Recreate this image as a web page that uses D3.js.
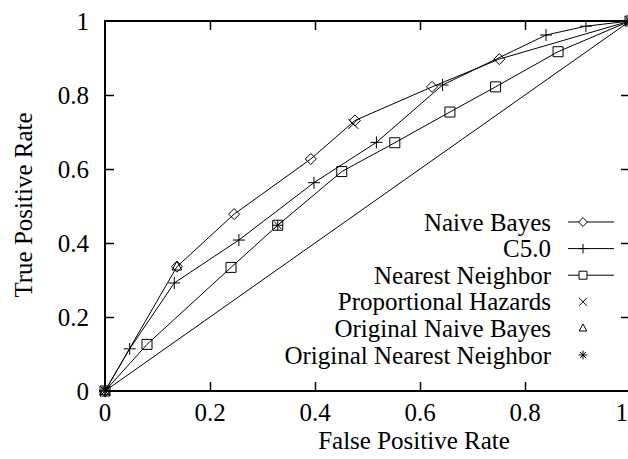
<!DOCTYPE html>
<html>
<head>
<meta charset="utf-8">
<script src="https://cdn.jsdelivr.net/npm/d3@7"></script>
<style>
  body { margin: 0; background: #fff; }
  svg { display: block; }
</style>
</head>
<body>
<svg id="roc" width="628" height="459" font-family="Liberation Serif" font-size="25px"></svg>
<script>
// ROC curves, values
var nbFpr  = [0, 0.137, 0.246, 0.392, 0.476, 0.623, 0.751, 1]
var nbTpr  = [0, 0.336, 0.478, 0.627, 0.731, 0.822, 0.897, 1]

var c5Fpr  = [0, 0.047, 0.132, 0.255, 0.398, 0.517, 0.643, 0.840, 0.916, 1]
var c5Tpr  = [0, 0.114, 0.292, 0.408, 0.563, 0.672, 0.827, 0.962, 0.986, 1]

var nnFpr  = [0, 0.080, 0.240, 0.329, 0.451, 0.552, 0.657, 0.744, 0.863, 1]
var nnTpr  = [0, 0.126, 0.334, 0.448, 0.593, 0.671, 0.754, 0.822, 0.917, 1]

var phFpr  = [0, 0.473, 1]
var phTpr  = [0, 0.722, 1]

var onbFpr = [0, 0.137, 1]
var onbTpr = [0, 0.336, 1]

var onnFpr = [0, 0.329, 1]
var onnTpr = [0, 0.448, 1]

var diagFpr = [0, 1]
var diagTpr = [0, 1]

var tickVals   = [0, 0.2, 0.4, 0.6, 0.8, 1]
var tickLabels = ["0", "0.2", "0.4", "0.6", "0.8", "1"]

var seriesNames = ["Naive Bayes", "C5.0", "Nearest Neighbor",
                   "Proportional Hazards", "Original Naive Bayes", "Original Nearest Neighbor"]

var zip = (xs, ys) => xs.map((v, i) => ({x: v, y: ys[i]}))

var series = [
  {name: seriesNames[0], pts: zip(nbFpr, nbTpr),   line: true,  sym: "diamond"},
  {name: seriesNames[1], pts: zip(c5Fpr, c5Tpr),   line: true,  sym: "plus"},
  {name: seriesNames[2], pts: zip(nnFpr, nnTpr),   line: true,  sym: "square"},
  {name: seriesNames[3], pts: zip(phFpr, phTpr),   line: false, sym: "times"},
  {name: seriesNames[4], pts: zip(onbFpr, onbTpr), line: false, sym: "triangle"},
  {name: seriesNames[5], pts: zip(onnFpr, onnTpr), line: false, sym: "asterisk"}
]

// marker outlines, gnuplot style
function symPath(type, r) {
  switch (type) {
    case "diamond":  return `M0,${-r}L${r},0L0,${r}L${-r},0Z`
    case "square":   return `M${-r},${-r}H${r}V${r}H${-r}Z`
    case "plus":     return `M${-r},0H${r}M0,${-r}V${r}`
    case "times":    return `M${-r},${-r}L${r},${r}M${-r},${r}L${r},${-r}`
    case "triangle": return `M0,${-r}L${r*0.87},${r*0.6}L${-r*0.87},${r*0.6}Z`
    case "asterisk": return `M${-r},0H${r}M0,${-r}V${r}M${-r*0.7},${-r*0.7}L${r*0.7},${r*0.7}M${-r*0.7},${r*0.7}L${r*0.7},${-r*0.7}`
  }
}
var symSize = {diamond: 5.5, square: 5, plus: 6, times: 5, triangle: 5.5, asterisk: 5.5}

var svg = d3.select("#roc")

var x = d3.scaleLinear().domain([0, 1]).range([105, 630])
var y = d3.scaleLinear().domain([0, 1]).range([391, 21])

var line = d3.line().x(d => x(d.x)).y(d => y(d.y))

// diagonal
svg.append("path")
    .datum(zip(diagFpr, diagTpr))
    .attr("fill", "none")
    .attr("stroke", "#000")
    .attr("stroke-width", 1)
    .attr("d", line)

series.filter(s => s.line).forEach(s => {
  svg.append("path")
      .datum(s.pts)
      .attr("fill", "none")
      .attr("stroke", "#000")
      .attr("stroke-width", 1)
      .attr("d", line)
})

series.forEach(s => {
  svg.append("g")
    .selectAll("path")
    .data(s.pts)
    .join("path")
      .attr("transform", d => `translate(${x(d.x)},${y(d.y)})`)
      .attr("d", symPath(s.sym, symSize[s.sym]))
      .attr("fill", "none")
      .attr("stroke", "#000")
      .attr("stroke-width", 1)
})

// axes: inward ticks on all four sides
var tickLen = 9
var inner = tickVals.slice(1, -1)

svg.append("g")
    .attr("transform", `translate(0,${y(0)})`)
    .call(d3.axisTop(x).tickValues(inner).tickSize(tickLen).tickFormat(""))
    .call(g => g.select(".domain").remove())
svg.append("g")
    .attr("transform", `translate(0,${y(1)})`)
    .call(d3.axisBottom(x).tickValues(inner).tickSize(tickLen).tickFormat(""))
    .call(g => g.select(".domain").remove())
svg.append("g")
    .attr("transform", `translate(${x(0)},0)`)
    .call(d3.axisRight(y).tickValues(inner).tickSize(tickLen).tickFormat(""))
    .call(g => g.select(".domain").remove())
svg.append("g")
    .attr("transform", `translate(${x(1)},0)`)
    .call(d3.axisLeft(y).tickValues(inner).tickSize(tickLen).tickFormat(""))
    .call(g => g.select(".domain").remove())
svg.selectAll(".tick line").attr("stroke-width", 1.5)
// d3 axes put their own font on the groups; clear it so the svg font applies
svg.selectAll("g").attr("font-family", null).attr("font-size", null)

// frame
svg.append("rect")
    .attr("x", x(0)).attr("y", y(1))
    .attr("width", x(1) - x(0)).attr("height", y(0) - y(1))
    .attr("fill", "none")
    .attr("stroke", "#000")
    .attr("stroke-width", 2)

// tick labels (the last x label would fall off the right edge, keep it inside)
svg.append("g")
  .selectAll("text")
  .data(tickVals)
  .join("text")
    .attr("text-anchor", (d, i) => i === tickVals.length - 1 ? "end" : "middle")
    .attr("x", (d, i) => i === tickVals.length - 1 ? 628 : x(d))
    .attr("y", 421)
    .text((d, i) => tickLabels[i])

svg.append("g")
  .selectAll("text")
  .data(tickVals)
  .join("text")
    .attr("text-anchor", "end")
    .attr("x", 89)
    .attr("y", d => y(d) + 8.5)
    .text((d, i) => tickLabels[i])

// axis titles
svg.append("text")
    .attr("text-anchor", "middle")
    .attr("x", 414)
    .attr("y", 449)
    .text("False Positive Rate")

svg.append("text")
    .attr("text-anchor", "middle")
    .attr("transform", "translate(32,205) rotate(-90)")
    .text("True Positive Rate")

// legend
var legendY = d3.scalePoint().domain(seriesNames).range([222, 355])
var leg = svg.append("g")
  .selectAll("g")
  .data(series)
  .join("g")
    .attr("transform", d => `translate(0,${legendY(d.name)})`)

leg.append("text")
    .attr("text-anchor", "end")
    .attr("x", 551)
    .attr("y", 8.5)
    .text(d => d.name)

leg.filter(d => d.line).append("line")
    .attr("x1", 568).attr("x2", 614)
    .attr("stroke", "#000")
    .attr("stroke-width", 1)

leg.append("path")
    .attr("transform", "translate(583,0)")
    .attr("d", d => symPath(d.sym, symSize[d.sym] * 0.8))
    .attr("fill", d => d.line ? "#fff" : "none")
    .attr("stroke", "#000")
    .attr("stroke-width", 1)
</script>
</body>
</html>
